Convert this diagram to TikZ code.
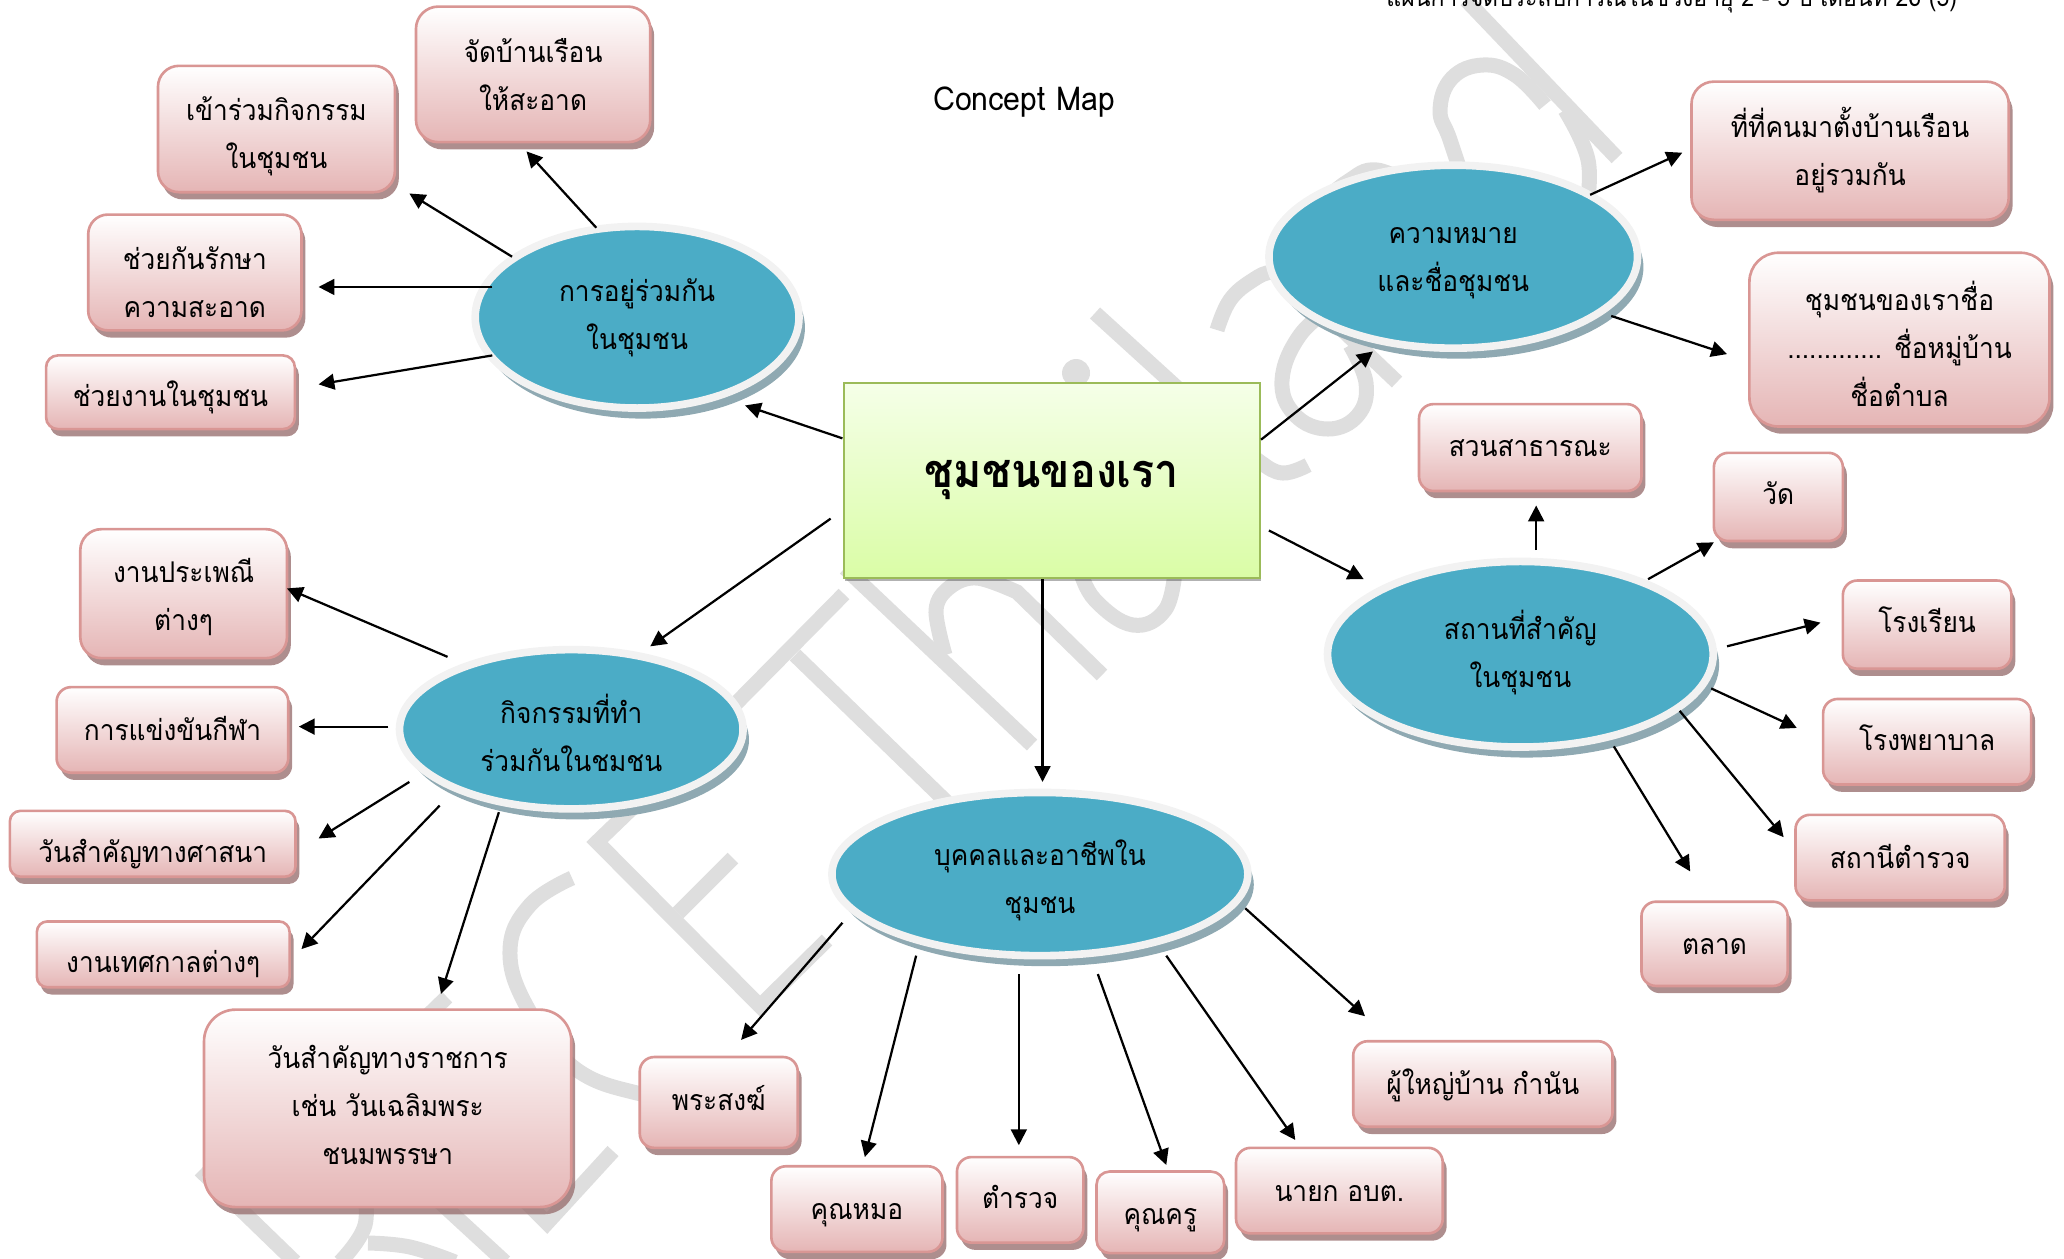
\documentclass[tikz,border=0pt]{standalone}
\usepackage{fontspec}
\setmainfont[Script=Thai,FakeStretch=0.92]{Loma}
\usetikzlibrary{shapes.geometric,arrows.meta,calc,shadows}
\definecolor{wm}{HTML}{DEDEDE}
\definecolor{pinkline}{HTML}{D99694}
\definecolor{pinkbot}{HTML}{E5B5B5}
\definecolor{pinkshadow}{HTML}{9A7272}
\definecolor{blueell}{HTML}{4BACC6}
\definecolor{ringc}{HTML}{F2F2F2}
\definecolor{ellshadow}{HTML}{8FA9B2}
\definecolor{greenline}{HTML}{9BBB59}
\definecolor{greentop}{HTML}{F5FFE8}
\definecolor{greenbot}{HTML}{DAFDA6}
\def\tsv{0}
\newcommand{\lab}[1]{\rule{0pt}{\dimexpr 31.5pt+\tsv pt\relax}#1\rule[\dimexpr-15.5pt+\tsv pt\relax]{0pt}{\dimexpr 15.5pt-\tsv pt\relax}}
\tikzset{
  ts/.code={\def\tsv{#1}},
  wmstroke/.style={draw=wm,line width=11.4pt,line cap=butt,line join=miter},
  pinkbox/.style={draw=pinkline,line width=2pt,rounded corners=#1pt,top color=white,bottom color=pinkbot,
    align=center,inner sep=0pt,outer sep=0pt,font=\fontsize{21.7}{36.5}\selectfont,
    general shadow={shadow xshift=3pt,shadow yshift=-5.5pt,fill=pinkshadow,opacity=.8}},
  blueell/.style={ellipse,draw=ringc,line width=5.8pt,fill=blueell,align=center,inner sep=0pt,outer sep=0pt,
    font=\fontsize{21.7}{36.5}\selectfont,
    general shadow={shadow xshift=4.5pt,shadow yshift=-8pt,fill=ellshadow}},
  centerbox/.style={draw=greenline,line width=1.6pt,top color=greentop,bottom color=greenbot,
    inner sep=0pt,outer sep=0pt,font=\fontsize{35.5}{40}\selectfont\bfseries,
    general shadow={shadow xshift=1pt,shadow yshift=-2pt,fill=black,opacity=.3}},
  link/.style={draw=black,line width=1.7pt,-{Triangle[length=12pt,width=12pt]}},
  plain/.style={inner sep=0pt,outer sep=0pt}
}
\newcommand{\pk}[8][0]{\node[ts=#1,pinkbox=#7,minimum width=#5pt,minimum height=#6pt] (#2) at (#3,#4) {\lab{#8}};}
\newcommand{\lnk}[6]{\draw[link] ($(#1)+(#2,#3)$) -- ($(#4)+(#5,#6)$);}
\begin{document}
\begin{tikzpicture}[x=1pt,y=-1pt]
\useasboundingbox (0,0) rectangle (1568,956.4);
% watermark
\begin{scope}[x=.7597pt,y=-.7597pt]
\clip (0,0) rectangle (2064,1259);
% T
\draw[wmstroke] (844,594) -- (690,750);
\draw[wmstroke] (795,655) -- (960,815);
% h
\draw[wmstroke] (845,568) -- (1032,745);
\draw[wmstroke] plot[smooth,tension=.6] coordinates {(945,655) (936,610) (950,587) (977,578) (1017,592)} -- (1102,675);
% a (first) bowl
\draw[wmstroke] plot[smooth,tension=.7] coordinates {(1080,570) (1095,600) (1133,625) (1165,610) (1175,570)};
% i dot
\fill[wm] (1076,373) circle (14);
% l
\draw[wmstroke] (1095,313) -- (1240,445);
\draw[wmstroke] plot[smooth,tension=.7] coordinates {(1235,440) (1260,462) (1283,473) (1308,465)};
% a (second)
\draw[wmstroke] (1397,382) -- (1290,280);
\draw[wmstroke] plot[smooth,tension=.7] coordinates {(1217,330) (1230,300) (1253,280) (1273,272) (1300,275)};
\draw[wmstroke] plot[smooth,tension=.7] coordinates {(1335,305) (1300,335) (1282,380) (1295,415) (1328,429) (1358,415) (1366,383) (1350,345)};
% n
\draw[wmstroke] plot[smooth,tension=.7] coordinates {(1320,205) (1347,182) (1377,170) (1420,190)};
% d
\draw[wmstroke] (1466,0) -- (1617,158);
\draw[wmstroke] plot[smooth,tension=.7] coordinates {(1470,200) (1450,140) (1440,110) (1452,78) (1483,65) (1515,75) (1545,105)};
\draw[wmstroke] plot[smooth,tension=.7] coordinates {(1565,110) (1588,160) (1586,210)};
% E
\draw[wmstroke] (680,762) -- (597,842) -- (760,1006) -- (827,940);
\draw[wmstroke] (678,913) -- (733,858);
% C
\draw[wmstroke] plot[smooth,tension=.7] coordinates {(572,878) (530,905) (510,950) (527,1007) (573,1067) (637,1093) (690,1097)};
% lower letters
\draw[wmstroke] (447,997) -- (380,1062);
\draw[wmstroke] (200,1170) -- (295,1262);
\draw[wmstroke] (405,1170) -- (505,1262);
\draw[wmstroke] (500,1176) -- (547,1223) -- (613,1151);
\draw[wmstroke] plot[smooth,tension=.7] coordinates {(362,1180) (365,1225) (340,1262)};
\draw[wmstroke] plot[smooth,tension=.7] coordinates {(368,1243) (410,1247) (455,1262)};
\end{scope}
% header
\node[plain,anchor=base,font=\fontsize{19}{24}\selectfont] (head) at (1270,5) {แผนการจัดประสบการณ์ในช่วงอายุ 2 - 5 ปี เดือนที่ 26 (5)};
\node[plain,font=\fontsize{25}{30}\selectfont] (title) at (778,77.5) {Concept Map};
% centre
\node[centerbox,minimum width=316pt,minimum height=148pt] (c) at (799,365) {\raisebox{-5pt}{ชุมชนของเรา}};
% ellipses
\node[ts=-1.5,blueell,minimum width=246pt,minimum height=138pt] (e1) at (484,241) {\lab{การอยู่ร่วมกัน\\ในชุมชน}};
\node[ts=0,blueell,minimum width=280pt,minimum height=139pt] (e2) at (1104,195) {\lab{ความหมาย\\และชื่อชุมชน}};
\node[ts=-1,blueell,minimum width=293pt,minimum height=141pt] (e3) at (1155,497) {\lab{สถานที่สำคัญ\\ในชุมชน}};
\node[ts=5.5,blueell,minimum width=261pt,minimum height=121pt] (e4) at (434,554) {\lab{กิจกรรมที่ทำ\\ร่วมกันในชมชน}};
\node[ts=3.5,blueell,minimum width=316pt,minimum height=124pt] (e5) at (790,664) {\lab{บุคคลและอาชีพใน\\ชุมชน}};
% boxes
\pk[1]{jad}{405}{56.5}{178}{103}{17}{จัดบ้านเรือน\\ให้สะอาด}
\pk[4]{khao}{210}{98}{180}{96}{16}{เข้าร่วมกิจกรรม\\ในชุมชน}
\pk[8]{chuay}{148}{207}{162}{88}{15}{ช่วยกันรักษา\\ความสะอาด}
\pk[3]{ngan}{129.5}{298}{189}{56}{9}{ช่วยงานในชุมชน}
\pk[2]{prapeni}{139.5}{451}{157}{98}{16}{งานประเพณี\\ต่างๆ}
\pk{khaeng}{131}{554.5}{176}{65}{11}{การแข่งขันกีฬา}
\pk[6]{sasana}{116}{641}{217}{50}{8}{วันสำคัญทางศาสนา}
\pk[6]{thes}{124}{725}{192}{50}{8}{งานเทศกาลต่างๆ}
\pk[-2]{rat}{294.5}{842}{279}{150}{24}{วันสำคัญทางราชการ\\เช่น วันเฉลิมพระ\\ชนมพรรษา}
\pk[-2]{phra}{546}{837.5}{120}{69}{11}{พระสงฆ์}
\pk{mor}{651}{918.5}{130}{65}{11}{คุณหมอ}
\pk[-1.5]{tam}{775}{911.5}{96}{65}{11}{ตำรวจ}
\pk[1]{khru}{881.5}{921}{97}{62}{10}{คุณครู}
\pk{nayok}{1017.5}{904.5}{157}{65}{11}{นายก อบต.}
\pk{yai}{1126.5}{823.5}{197}{65}{11}{ผู้ใหญ่บ้าน กำนัน}
\pk{thi}{1405.5}{114.5}{241}{105}{17}{ที่ที่คนมาตั้งบ้านเรือน\\อยู่รวมกัน}
\pk[6]{chum}{1443}{258}{228}{132}{22}{ชุมชนของเราชื่อ\\............. ชื่อหมู่บ้าน\\ชื่อตำบล}
\pk[-1]{suan}{1162.5}{340}{169}{66}{11}{สวนสาธารณะ}
\pk[-2]{wat}{1351}{377.5}{98}{67}{11}{วัด}
\pk[-2]{rong}{1464}{474.5}{128}{67}{11}{โรงเรียน}
\pk[-1]{phayaban}{1464}{563.5}{158}{65}{11}{โรงพยาบาล}
\pk{sathani}{1443.5}{651.5}{159}{65}{11}{สถานีตำรวจ}
\pk{talat}{1302.5}{717}{111}{64}{11}{ตลาด}
% connectors
\lnk{c}{-159}{-32}{e1}{82}{67}
\lnk{c}{159}{-31}{e2}{-61}{72}
\lnk{c}{165}{38}{e3}{-119}{-57}
\lnk{c}{-168}{29}{e4}{60}{-63}
\lnk{c}{-7}{75}{e5}{2}{-70}
\lnk{e1}{-31}{-68}{jad}{-5}{58.5}
\lnk{e1}{-95}{-46}{khao}{101}{49}
\lnk{e1}{-110}{-23}{chuay}{94}{11}
\lnk{e1}{-110}{29}{ngan}{112.5}{-6}
\lnk{e2}{104}{-47}{thi}{-127.5}{1.5}
\lnk{e2}{120}{45}{chum}{-131}{11}
\lnk{e3}{12}{-79}{suan}{4.5}{44}
\lnk{e3}{97}{-57}{wat}{-49}{34.5}
\lnk{e3}{157}{-6}{rong}{-81}{-1.5}
\lnk{e3}{145}{26}{phayaban}{-99}{-10.5}
\lnk{e3}{121}{43}{sathani}{-88.5}{-15.5}
\lnk{e3}{71}{70}{talat}{-18.5}{-55}
\lnk{e4}{-94}{-55}{prapeni}{78.5}{-4}
\lnk{e4}{-139}{-2}{khaeng}{96}{-2.5}
\lnk{e4}{-123}{40}{sasana}{126}{-4}
\lnk{e4}{-100}{58}{thes}{105}{-4}
\lnk{e4}{-55}{63}{rat}{40.5}{-87}
\lnk{e5}{-150}{37}{phra}{17}{-47.5}
\lnk{e5}{-94}{62}{mor}{6}{-39.5}
\lnk{e5}{-16}{76}{tam}{-1}{-41.5}
\lnk{e5}{44}{76}{khru}{4.5}{-36}
\lnk{e5}{96}{62}{nayok}{-33.5}{-38.5}
\lnk{e5}{156}{26}{yai}{-89.5}{-51.5}
\end{tikzpicture}
\end{document}
